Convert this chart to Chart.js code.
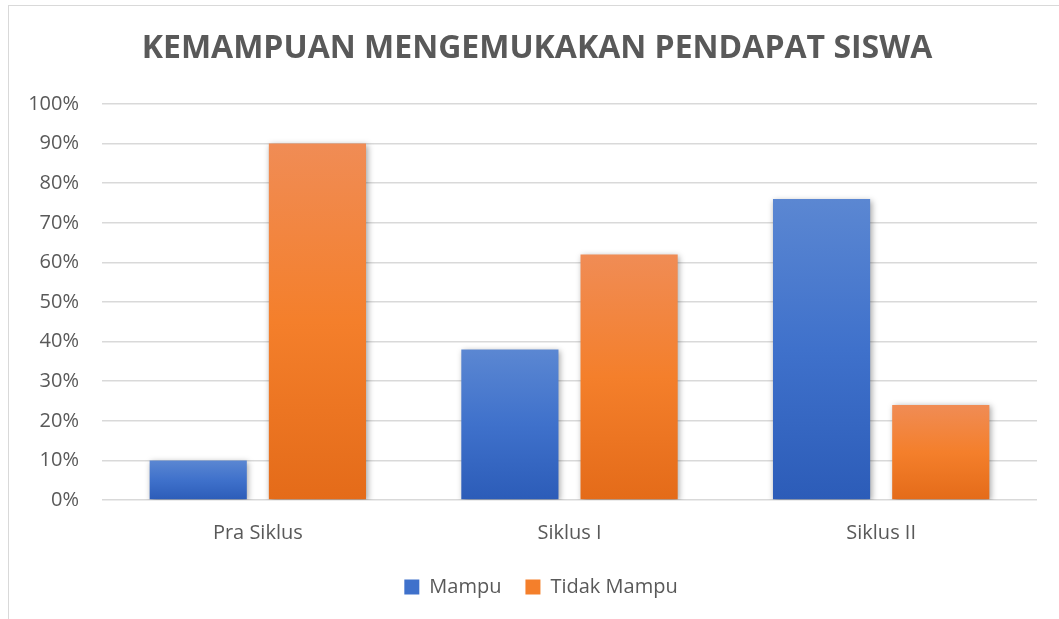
<!DOCTYPE html>
<html>
<head>
<meta charset="utf-8">
<script src="https://cdn.jsdelivr.net/npm/chart.js@4.4.1/dist/chart.umd.min.js"></script>
<style>
    html, body { margin: 0; padding: 0; background: #fff; }
    #wrap { position: relative; width: 1059px; height: 619px; overflow: hidden; }
    #frame { position: absolute; left: 8px; top: 5px; width: 1100px; height: 700px;
             border-left: 1px solid #d9d9d9; border-top: 1px solid #d9d9d9; }
    canvas { position: absolute; left: 0; top: 0; }
</style>
</head>
<body>
<div id="wrap">
    <div id="frame"></div>
    <canvas id="chart" width="1059" height="619"></canvas>
</div>
<script>
(function () {
    'use strict';

    // data
    var categories = ['Pra Siklus', 'Siklus I', 'Siklus II'];
    var mampu = [10, 38, 76];
    var tidakMampu = [90, 62, 24];
    var seriesNames = ['Mampu', 'Tidak Mampu'];
    var titleText = 'KEMAMPUAN MENGEMUKAKAN PENDAPAT SISWA';

    var TEXT = '#595959';
    var GRID = '#d9d9d9';
    var FONT = "'Open Sans', 'Noto Sans', sans-serif";

    var BLUE = ['#5b87d2', '#3f71cb', '#2c5cb8'];
    var ORANGE = ['#f08c55', '#f47f2b', '#e46b19'];

    // vertical gradient per bar, from its top down to the baseline
    function barGradient(stops) {
        return function (ctx) {
            var chart = ctx.chart;
            var y = chart.scales.y;
            if (!y || ctx.raw == null) {
                return stops[1];
            }
            var top = y.getPixelForValue(ctx.raw);
            var base = y.getPixelForValue(0);
            if (!isFinite(top) || !isFinite(base) || top === base) {
                return stops[1];
            }
            var g = chart.ctx.createLinearGradient(0, top, 0, base);
            g.addColorStop(0, stops[0]);
            g.addColorStop(0.5, stops[1]);
            g.addColorStop(1, stops[2]);
            return g;
        };
    }

    var barShadow = {
        id: 'barShadow',
        beforeDatasetsDraw: function (chart) {
            var c = chart.ctx;
            c.save();
            c.shadowColor = 'rgba(0, 0, 0, 0.35)';
            c.shadowBlur = 6;
            c.shadowOffsetX = 1.5;
            c.shadowOffsetY = 1.5;
        },
        afterDatasetsDraw: function (chart) {
            chart.ctx.restore();
        }
    };

    // title and legend are centred on the whole frame, not on the plot
    var frameCentre = {
        id: 'frameCentre',
        afterLayout: function (chart) {
            if (chart.legend) {
                chart.legend.left += 18;
                chart.legend.right += 18;
            }
        },
        afterDraw: function (chart) {
            var c = chart.ctx;
            c.save();
            c.font = 'bold 32px ' + FONT;
            c.fillStyle = TEXT;
            c.textAlign = 'center';
            c.textBaseline = 'middle';
            c.fillText(titleText, 537, 49);
            c.restore();
        }
    };

    new Chart(document.getElementById('chart'), {
        type: 'bar',
        data: {
            labels: categories,
            datasets: [
                {
                    label: seriesNames[0],
                    data: mampu,
                    backgroundColor: barGradient(BLUE),
                    categoryPercentage: 0.765,
                    barPercentage: 0.815
                },
                {
                    label: seriesNames[1],
                    data: tidakMampu,
                    backgroundColor: barGradient(ORANGE),
                    categoryPercentage: 0.765,
                    barPercentage: 0.815
                }
            ]
        },
        plugins: [barShadow, frameCentre],
        options: {
            responsive: false,
            animation: false,
            layout: {
                padding: { left: 9, right: 22, top: 104, bottom: 12 }
            },
            plugins: {
                title: { display: false },
                legend: {
                    position: 'bottom',
                    labels: {
                        color: TEXT,
                        font: { family: FONT, size: 20 },
                        boxWidth: 15,
                        boxHeight: 15,
                        padding: 24,
                        generateLabels: function (chart) {
                            var cols = [BLUE, ORANGE];
                            return chart.data.datasets.map(function (ds, i) {
                                return {
                                    text: ds.label,
                                    fillStyle: cols[i][1],
                                    strokeStyle: cols[i][1],
                                    lineWidth: 0,
                                    hidden: false,
                                    datasetIndex: i,
                                    fontColor: TEXT
                                };
                            });
                        }
                    }
                },
                tooltip: { enabled: false }
            },
            scales: {
                x: {
                    grid: { display: false, drawTicks: false },
                    border: { display: false },
                    ticks: {
                        color: TEXT,
                        font: { family: FONT, size: 20 },
                        padding: 21
                    },
                    afterFit: function (scale) {
                        scale.height = 53;
                    }
                },
                y: {
                    min: 0,
                    max: 100,
                    grid: { color: GRID, lineWidth: 1.5, drawTicks: false },
                    border: { display: false },
                    ticks: {
                        stepSize: 10,
                        color: TEXT,
                        font: { family: FONT, size: 20 },
                        padding: 23,
                        callback: function (v) {
                            return v + '%';
                        }
                    },
                    afterFit: function (scale) {
                        scale.width = 93;
                    }
                }
            }
        }
    });
})();
</script>
</body>
</html>
